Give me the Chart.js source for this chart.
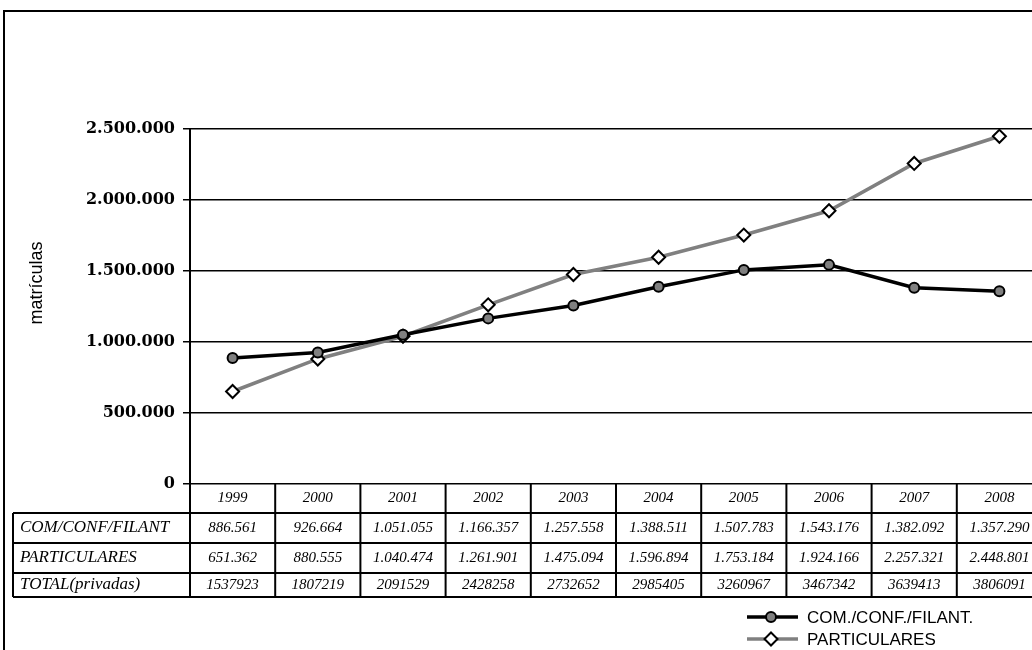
<!DOCTYPE html>
<html>
<head>
<meta charset="utf-8">
<script src="https://cdn.jsdelivr.net/npm/chart.js@4/dist/chart.umd.min.js"></script>
<style>
  html, body { margin: 0; padding: 0; background: #fff; overflow: hidden; }
  #wrap { width: 1062px; height: 660px; position: relative; }
</style>
</head>
<body>
<div id="wrap"><canvas id="c" width="1062" height="660"></canvas></div>
<script>
// Enrolment series by year
const years = ['1999', '2000', '2001', '2002', '2003', '2004', '2005', '2006', '2007', '2008'];
const comValues = [886561, 926664, 1051055, 1166357, 1257558, 1388511, 1507783, 1543176, 1382092, 1357290];
const partValues = [651362, 880555, 1040474, 1261901, 1475094, 1596894, 1753184, 1924166, 2257321, 2448801];
const totalValues = [1537923, 1807219, 2091529, 2428258, 2732652, 2985405, 3260967, 3467342, 3639413, 3806091];
const rowLabels = ['COM/CONF/FILANT', 'PARTICULARES', 'TOTAL(privadas)'];
const seriesLabels = ['COM./CONF./FILANT.', 'PARTICULARES'];
const yTicks = [0, 500000, 1000000, 1500000, 2000000, 2500000];
const yTitle = 'matrículas';

// thousands separated by dots
function dots(v) {
  return String(Math.round(v)).replace(/\B(?=(\d{3})+(?!\d))/g, '.');
}

const SCRIPT_FONT = 'italic 15px "Liberation Serif", serif';
const LABEL_FONT = 'italic 17px "Liberation Serif", serif';

// Data table under the plot, legend, axis title and frame
const decorPlugin = {
  id: 'decor',
  afterDraw(chart) {
    const ctx = chart.ctx;
    const area = chart.chartArea;
    const W = chart.width;
    const left = area.left, right = area.right;
    const colW = (right - left) / years.length;
    const top = area.bottom;
    const rowH = [29, 30, 30, 24];
    const rowY = [top];
    rowH.forEach(h => rowY.push(rowY[rowY.length - 1] + h));
    const tableLeft = 13;

    ctx.save();
    ctx.strokeStyle = '#000';
    ctx.lineWidth = 2;
    // horizontal rules
    for (let r = 1; r < rowY.length; r++) {
      ctx.beginPath();
      ctx.moveTo(tableLeft, rowY[r]);
      ctx.lineTo(right, rowY[r]);
      ctx.stroke();
    }
    // vertical rules
    for (let c = 0; c <= years.length; c++) {
      const x = left + c * colW;
      ctx.beginPath();
      ctx.moveTo(x, top);
      ctx.lineTo(x, rowY[rowY.length - 1]);
      ctx.stroke();
    }
    ctx.beginPath();
    ctx.moveTo(tableLeft, rowY[1]);
    ctx.lineTo(tableLeft, rowY[rowY.length - 1]);
    ctx.stroke();

    // cell text
    ctx.fillStyle = '#000';
    ctx.textBaseline = 'middle';
    ctx.textAlign = 'center';
    ctx.font = SCRIPT_FONT;
    const rows = [years, comValues.map(dots), partValues.map(dots), totalValues.map(String)];
    rows.forEach((cells, r) => {
      const cy = (rowY[r] + rowY[r + 1]) / 2;
      cells.forEach((t, i) => {
        ctx.fillText(t, chart.scales.x.getPixelForValue(i), cy);
      });
    });
    ctx.textAlign = 'left';
    ctx.font = LABEL_FONT;
    rowLabels.forEach((t, r) => {
      const cy = (rowY[r + 1] + rowY[r + 2]) / 2;
      ctx.fillText(t, tableLeft + 7, cy);
    });

    // axis title
    ctx.save();
    ctx.translate(37, 283);
    ctx.rotate(-Math.PI / 2);
    ctx.textAlign = 'center';
    ctx.font = '18px "Liberation Sans", Arial, sans-serif';
    ctx.fillText(yTitle, 0, 0);
    ctx.restore();

    // legend
    const legY = [617, 639];
    chart.data.datasets.forEach((ds, i) => {
      const y = legY[i];
      ctx.strokeStyle = ds.borderColor;
      ctx.lineWidth = ds.borderWidth;
      ctx.beginPath();
      ctx.moveTo(747, y);
      ctx.lineTo(798, y);
      ctx.stroke();
      ctx.fillStyle = ds.pointBackgroundColor;
      ctx.strokeStyle = ds.pointBorderColor;
      ctx.lineWidth = ds.pointBorderWidth;
      ctx.beginPath();
      if (ds.pointStyle === 'circle') {
        ctx.arc(771, y, ds.pointRadius, 0, Math.PI * 2);
      } else {
        const r = ds.pointRadius;
        ctx.moveTo(771, y - r); ctx.lineTo(771 + r, y); ctx.lineTo(771, y + r); ctx.lineTo(771 - r, y); ctx.closePath();
      }
      ctx.fill();
      ctx.stroke();
      ctx.fillStyle = '#000';
      ctx.textAlign = 'left';
      ctx.textBaseline = 'middle';
      ctx.font = '17px "Liberation Sans", Arial, sans-serif';
      ctx.fillText(ds.label, 807, y + 1);
    });

    // outer frame
    ctx.strokeStyle = '#000';
    ctx.lineWidth = 2;
    ctx.strokeRect(4, 11, W - 8, 645);
    ctx.restore();
  }
};

new Chart(document.getElementById('c'), {
  type: 'line',
  data: {
    labels: years,
    datasets: [
      {
        label: seriesLabels[0],
        data: comValues,
        borderColor: '#000000',
        borderWidth: 3.5,
        pointStyle: 'circle',
        pointRadius: 5,
        pointBackgroundColor: '#808080',
        pointBorderColor: '#000000',
        pointBorderWidth: 2,
        tension: 0
      },
      {
        label: seriesLabels[1],
        data: partValues,
        borderColor: '#808080',
        borderWidth: 3.5,
        pointStyle: 'rectRot',
        pointRadius: 6.5,
        pointBackgroundColor: '#ffffff',
        pointBorderColor: '#000000',
        pointBorderWidth: 2,
        tension: 0
      }
    ]
  },
  options: {
    responsive: false,
    animation: false,
    devicePixelRatio: 1,
    layout: { padding: { left: 0, top: 129, right: 20, bottom: 176 } },
    plugins: { legend: { display: false }, tooltip: { enabled: false } },
    scales: {
      x: { display: false, offset: true },
      y: {
        min: 0,
        max: 2500000,
        afterFit(scale) { scale.width = 190; },
        afterBuildTicks(scale) { scale.ticks = yTicks.map(v => ({ value: v })); },
        ticks: {
          callback: v => dots(v),
          color: '#000',
          padding: 8,
          font: { family: '"DejaVu Serif", serif', weight: 'bold', size: 16 }
        },
        grid: { color: '#000', lineWidth: 1.5, tickLength: 7, drawTicks: true },
        border: { display: true, color: '#000', width: 2 }
      }
    }
  },
  plugins: [decorPlugin]
});
</script>
</body>
</html>
